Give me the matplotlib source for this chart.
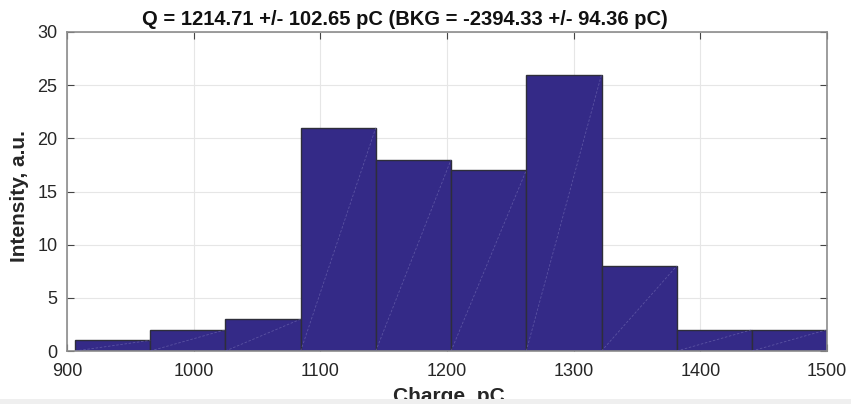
import matplotlib
matplotlib.use("Agg")
import matplotlib.pyplot as plt
from matplotlib.patches import Rectangle

# Histogram of measured charge
bin_edges = [906.3, 965.7, 1025.1, 1084.5, 1143.8, 1203.2, 1262.6, 1322.0, 1381.4, 1440.7, 1500.0]
counts = [1, 2, 3, 21, 18, 17, 26, 8, 2, 2]
x_ticks = [900, 1000, 1100, 1200, 1300, 1400, 1500]
y_ticks = [0, 5, 10, 15, 20, 25, 30]
title = "Q = 1214.71 +/- 102.65 pC (BKG = -2394.33 +/- 94.36 pC)"

plt.rcParams['font.family'] = ['Liberation Sans', 'DejaVu Sans']

W, H = 851, 404
fig = plt.figure(figsize=(W / 100, H / 100), dpi=100)
ax = fig.add_axes([67 / W, 53 / H, 760 / W, 319 / H])

bar_color = "#342a87"
lefts = bin_edges[:-1]
widths = [b - a for a, b in zip(bin_edges[:-1], bin_edges[1:])]
ax.bar(lefts, counts, width=widths, align="edge", color=bar_color,
       edgecolor="#2e2e3a", linewidth=1.0, zorder=2)
# faint triangulation seams inside each bar
for l, w, c in zip(lefts, widths, counts):
    ax.plot([l, l + w], [0, c], color="#7a74b8", lw=0.6, ls=(0, (3, 2)),
            alpha=0.55, zorder=3)

ax.set_xlim(900, 1500)
ax.set_ylim(0, 30)
ax.set_xticks(x_ticks)
ax.set_yticks(y_ticks)
ax.grid(True, color="#e6e6e6", lw=0.8, zorder=0)
ax.set_axisbelow(True)
ax.tick_params(axis="both", direction="in", length=5, width=0.8, color="#444444",
               labelsize=13, top=True, right=True, labelcolor="#262626")
ax.tick_params(axis="x", pad=9)
ax.tick_params(axis="y", pad=7)
for s in ax.spines.values():
    s.set_color("#8c8c8c")
    s.set_linewidth(1.2)

fig.text(405 / W, 1 - 25 / H, title, fontsize=14.5, fontweight="bold",
         color="#111111", ha="center", va="baseline")
ax.set_ylabel("Intensity, a.u.", fontsize=15, fontweight="bold", color="#262626")
ax.set_xlabel("Charge, pC", fontsize=15, fontweight="bold", color="#262626")
ax.yaxis.set_label_coords((29 - 67) / 760, (351 - 196) / 319)
ax.xaxis.set_label_coords((449 - 67) / 760, (351 - 387) / 319)

# status strip along the bottom edge
fig.patches.append(Rectangle((0, 0), 1, 5 / H, transform=fig.transFigure,
                             facecolor="#efefef", edgecolor="none", zorder=10))

fig.savefig("out.png", dpi=100)
